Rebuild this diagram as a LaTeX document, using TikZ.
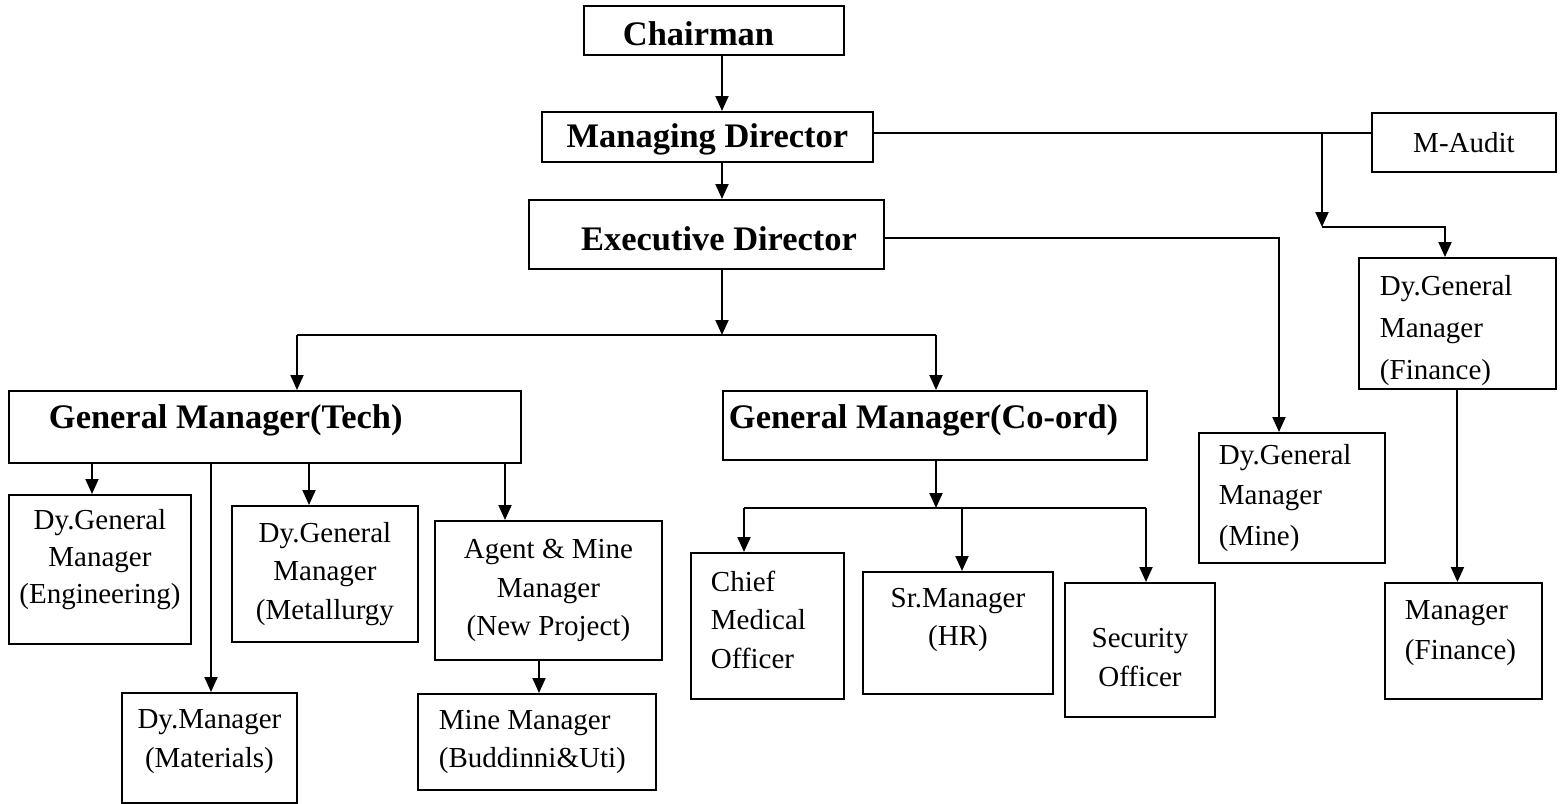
\documentclass[tikz,border=0pt]{standalone}
\usepackage{fontspec}
\setmainfont{Liberation Serif}
\usepackage{tikz}
\usetikzlibrary{arrows.meta}

\newcommand{\padbelow}[1]{\rule[-#1]{0pt}{#1}}
\newcommand{\padabove}[1]{\rule{0pt}{#1}}

\begin{document}
\begin{tikzpicture}
[
    x = 0.02cm, y = -0.02cm,
    line width = 1.1pt,
    box/.style = {draw, rectangle, inner sep = 0pt, anchor = north west, font = \fontsize{16.5}{22}\selectfont},
    head/.style = {box, font = \bfseries\fontsize{19.6}{23}\selectfont},
    arr/.style = {-{Triangle[length = 0.3cm, width = 0.26cm]}},
]
    \useasboundingbox (0,0) rectangle (1562,804);

    \node[head, minimum width = 5.2cm, minimum height = 0.98cm, text width = 3.64cm, align = flush left, text height = 0.62cm, text depth = 0cm] (chair) at (583,5) {Chairman};
    \node[head, minimum width = 6.62cm, minimum height = 1cm, text height = 0.5cm, text depth = 0.07cm] (md) at (541,111) {Managing Director};
    \node[head, minimum width = 7.1cm, minimum height = 1.38cm, text width = 6.02cm, align = flush right, text height = 0.66cm, text depth = 0cm] (ed) at (528,199) {Executive Director};
    \node[box, minimum width = 3.68cm, minimum height = 1.18cm] (audit) at (1371,112) {M-Audit};
    \node[box, minimum width = 3.94cm, minimum height = 2.62cm, text width = 3.1cm, align = flush left, font = \fontsize{16.5}{24}\selectfont] (dgmfin) at (1358,257) {\padabove{0.68cm}Dy.General\\Manager\\(Finance)};
    \node[head, minimum width = 10.24cm, minimum height = 1.44cm, text width = 8.64cm, align = flush left, text height = 0.3cm, text depth = 0.22cm] (gmtech) at (8,390) {General Manager(Tech)};
    \node[head, minimum width = 8.48cm, minimum height = 1.38cm, text width = 8.24cm, align = flush left, text height = 0.3cm, text depth = 0.16cm] (gmcoord) at (722,390) {General Manager(Co-ord)};
    \node[box, minimum width = 3.72cm, minimum height = 2.6cm, text width = 2.92cm, align = flush left, font = \fontsize{16.5}{23}\selectfont] (dgmmine) at (1198,432) {Dy.General\\Manager\\(Mine)};
    \node[box, minimum width = 3.14cm, minimum height = 2.32cm, text width = 2.34cm, align = flush left, font = \fontsize{16.5}{23}\selectfont] (mgrfin) at (1384,582) {Manager\\(Finance)\padbelow{0.44cm}};
    \node[box, minimum width = 3.64cm, minimum height = 2.98cm, align = center, font = \fontsize{16.5}{21}\selectfont] (dgmeng) at (8,494) {Dy.General\\Manager\\(Engineering)\padbelow{0.52cm}};
    \node[box, minimum width = 3.72cm, minimum height = 2.72cm, align = center] (dgmmet) at (231,505) {Dy.General\\Manager\\(Metallurgy};
    \node[box, minimum width = 4.54cm, minimum height = 2.78cm, align = center] (agent) at (434,520) {Agent \& Mine\\Manager\\(New Project)};
    \node[box, minimum width = 3.5cm, minimum height = 2.2cm, align = center] (dymat) at (121,692) {Dy.Manager\\(Materials)\padbelow{0.38cm}};
    \node[box, minimum width = 4.76cm, minimum height = 1.92cm, text width = 3.92cm, align = flush left] (minemgr) at (417,693) {Mine Manager\\(Buddinni\&Uti)};
    \node[box, minimum width = 3.06cm, minimum height = 2.92cm, text width = 2.26cm, align = flush left] (cmo) at (690,552) {Chief\\Medical\\Officer\padbelow{0.26cm}};
    \node[box, minimum width = 3.8cm, minimum height = 2.44cm, align = center] (srhr) at (862,571) {Sr.Manager\\(HR)\padbelow{0.64cm}};
    \node[box, minimum width = 3cm, minimum height = 2.68cm, align = center] (secoff) at (1064,582) {\padabove{0.68cm}Security\\Officer};

    \coordinate (axis) at (722,0);
    \coordinate (split) at (722,335);
    \coordinate (tleft) at (297,335);
    \coordinate (tright) at (936,335);
    \coordinate (audit-x) at (1322,133);
    \coordinate (fin-turn) at (1322,227);
    \coordinate (fin-x) at (1445,227);
    \coordinate (mine-x) at (1279,238);
    \coordinate (eng-x) at (92,0);
    \coordinate (mat-x) at (211,0);
    \coordinate (met-x) at (309,0);
    \coordinate (agent-x) at (505,0);
    \coordinate (mm-x) at (539,0);
    \coordinate (csplit) at (936,508);
    \coordinate (cmo-x) at (744,508);
    \coordinate (hr-x) at (962,508);
    \coordinate (sec-x) at (1146,508);

    \draw[arr] (axis |- chair.south) -- (axis |- md.north);
    \draw[arr] (axis |- md.south) -- (axis |- ed.north);
    \draw[arr] (axis |- ed.south) -- (split);
    \draw (tleft) -- (tright);
    \draw[arr] (tleft) -- (tleft |- gmtech.north);
    \draw[arr] (tright) -- (tright |- gmcoord.north);

    \draw (md.east |- audit-x) -- (audit.west |- audit-x);
    \draw[arr] (audit-x) -- (fin-turn);
    \draw[arr] (fin-turn) -- (fin-x) -- (fin-x |- dgmfin.north);
    \draw[arr] (dgmfin.south) -- (dgmfin.south |- mgrfin.north);
    \draw[arr] (ed.east |- mine-x) -- (mine-x) -- (mine-x |- dgmmine.north);

    \draw[arr] (eng-x |- gmtech.south) -- (eng-x |- dgmeng.north);
    \draw[arr] (mat-x |- gmtech.south) -- (mat-x |- dymat.north);
    \draw[arr] (met-x |- gmtech.south) -- (met-x |- dgmmet.north);
    \draw[arr] (agent-x |- gmtech.south) -- (agent-x |- agent.north);
    \draw[arr] (mm-x |- agent.south) -- (mm-x |- minemgr.north);

    \draw[arr] (csplit |- gmcoord.south) -- (csplit);
    \draw (cmo-x) -- (sec-x);
    \draw[arr] (cmo-x) -- (cmo-x |- cmo.north);
    \draw[arr] (hr-x) -- (hr-x |- srhr.north);
    \draw[arr] (sec-x) -- (sec-x |- secoff.north);
\end{tikzpicture}
\end{document}
